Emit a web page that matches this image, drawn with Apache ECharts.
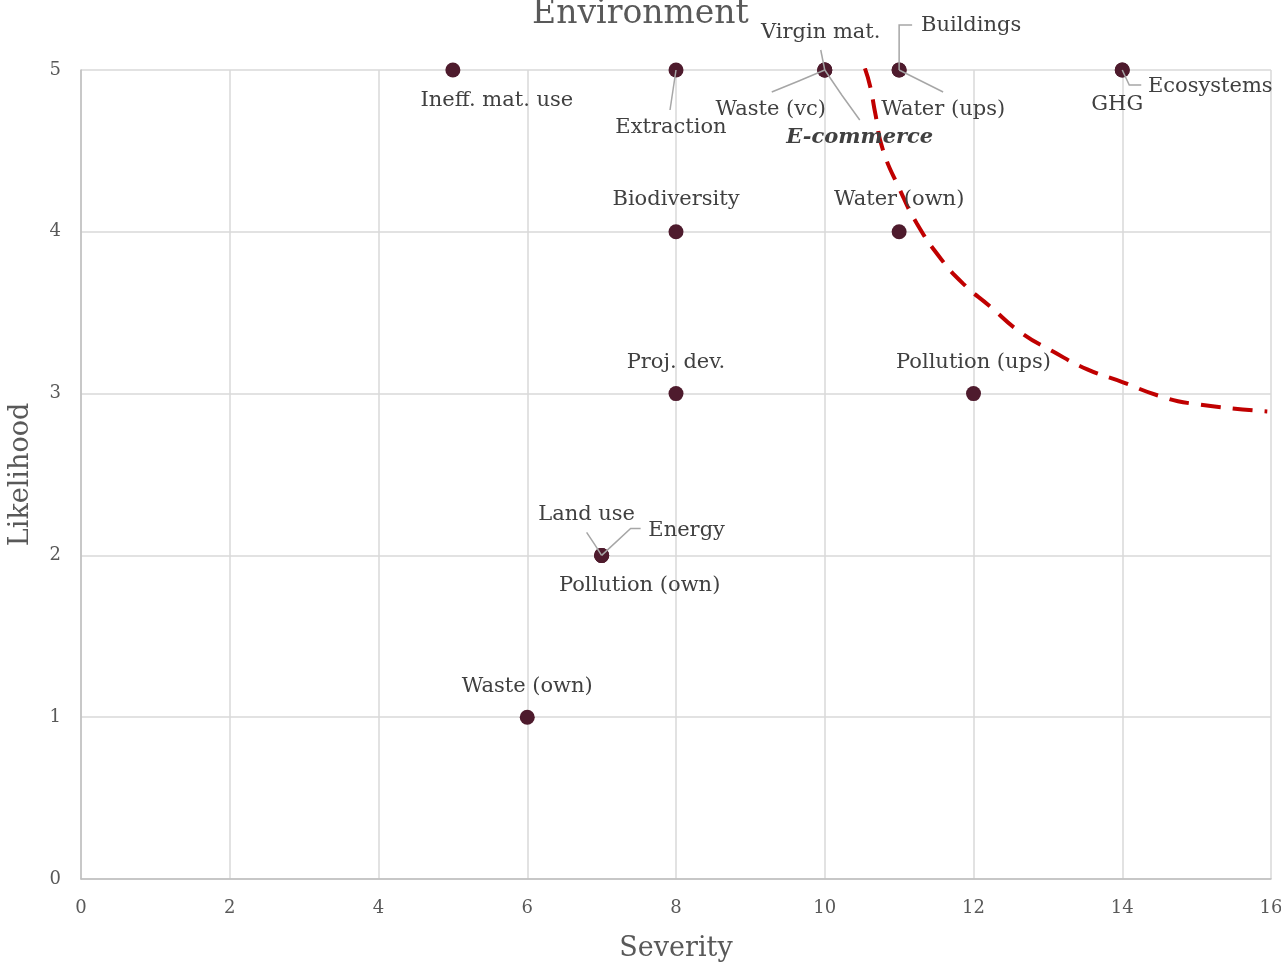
<!DOCTYPE html>
<html>
<head>
<meta charset="utf-8">
<script src="https://cdn.jsdelivr.net/npm/echarts@6/dist/echarts.min.js"></script>
<style>
  html, body { margin: 0; padding: 0; background: #fff; }
  #chart { width: 1281px; height: 967px; }
</style>
</head>
<body>
<div id="chart"></div>
<script>
// Environmental risks: severity vs likelihood
const riskNames = [
  'Ineff. mat. use', 'Extraction', 'Virgin mat.', 'Waste (vc)', 'E-commerce',
  'Buildings', 'Water (ups)', 'GHG', 'Ecosystems', 'Biodiversity',
  'Water (own)', 'Proj. dev.', 'Pollution (ups)', 'Land use', 'Energy',
  'Pollution (own)', 'Waste (own)'
];
const severity   = [5, 8, 10, 10, 10, 11, 11, 14, 14, 8, 11, 8, 12, 7, 7, 7, 6];
const likelihood = [5, 5, 5, 5, 5, 5, 5, 5, 5, 4, 4, 3, 3, 2, 2, 2, 1];

// Threshold curve (dashed)
const curveX = [10.54, 10.61, 10.68, 10.78, 11.01, 11.24, 11.55, 11.86, 12.22, 12.63, 13.07, 13.53, 14.01, 14.47, 14.91, 15.95];
const curveY = [5.01, 4.90, 4.73, 4.51, 4.26, 4.05, 3.84, 3.68, 3.54, 3.38, 3.26, 3.15, 3.07, 2.99, 2.94, 2.89];

const xTicks = [0, 2, 4, 6, 8, 10, 12, 14, 16];
const yTicks = [0, 1, 2, 3, 4, 5];

// Label centre offset from its marker, in pixels
const labelOffset = {
  'Ineff. mat. use': [44, 31],
  'Extraction':      [-5, 58],
  'Virgin mat.':     [-4, -37],
  'Waste (vc)':      [-54, 40],
  'E-commerce':      [35, 68],
  'Buildings':       [72, -44],
  'Water (ups)':     [44, 40],
  'GHG':             [-5, 35],
  'Ecosystems':      [88, 17],
  'Biodiversity':    [0, -32],
  'Water (own)':     [0, -32],
  'Proj. dev.':      [0, -31],
  'Pollution (ups)': [0, -31],
  'Land use':        [-15, -41],
  'Energy':          [85, -25],
  'Pollution (own)': [38, 30],
  'Waste (own)':     [0, -31]
};

// Leader-line bends, relative to the marker centre
const leaderLines = {
  'Extraction':  [[0, 0], [-3, 20], [-6, 40]],
  'Virgin mat.': [[0, 0], [-2, -10], [-4, -20]],
  'Waste (vc)':  [[0, 0], [-26, 11], [-53, 22]],
  'E-commerce':  [[0, 0], [17, 25], [35, 50]],
  'Buildings':   [[0, 0], [0, -45], [13, -45]],
  'Water (ups)': [[0, 0], [22, 11], [44, 22]],
  'Ecosystems':  [[0, 0], [7, 15], [19, 15]],
  'Land use':    [[0, 0], [-7, -11], [-15, -23]],
  'Energy':      [[0, 0], [29, -27], [39, -27]]
};

const FONT = '"DejaVu Serif", Georgia, serif';

const points = riskNames.map((n, i) => {
  const item = { name: n, value: [severity[i], likelihood[i]] };
  if (n === 'E-commerce') {
    item.label = { fontWeight: 'bold', fontStyle: 'italic' };
  }
  return item;
});

// One leader line per label that has one, anchored at its marker
const leaderData = [];
riskNames.forEach((n, i) => {
  if (leaderLines[n]) leaderData.push({ name: n, value: [severity[i], likelihood[i], i] });
});

const chart = echarts.init(document.getElementById('chart'), null, { renderer: 'canvas' });

chart.setOption({
  animation: false,
  backgroundColor: '#ffffff',
  title: {
    text: 'Environment',
    left: 'center',
    top: -7,
    textStyle: { fontFamily: FONT, fontSize: 33, fontWeight: 'normal', color: '#595959' }
  },
  grid: { left: 81, right: 10, top: 70, bottom: 88, containLabel: false, outerBoundsMode: 'none' },
  xAxis: {
    type: 'value',
    min: xTicks[0],
    max: xTicks[xTicks.length - 1],
    interval: 2,
    name: 'Severity',
    nameLocation: 'middle',
    nameGap: 56,
    nameTextStyle: { fontFamily: FONT, fontSize: 27, color: '#595959' },
    axisLine: { show: true, lineStyle: { color: '#bfbfbf', width: 1.5 } },
    axisTick: { show: false },
    axisLabel: { margin: 20, fontFamily: FONT, fontSize: 18, color: '#595959' },
    splitLine: { show: true, lineStyle: { color: '#d9d9d9', width: 1.5 } }
  },
  yAxis: {
    type: 'value',
    min: yTicks[0],
    max: yTicks[yTicks.length - 1],
    interval: 1,
    name: 'Likelihood',
    nameLocation: 'middle',
    nameGap: 47,
    nameTextStyle: { fontFamily: FONT, fontSize: 27, color: '#595959' },
    axisLine: { show: true, lineStyle: { color: '#bfbfbf', width: 1.5 } },
    axisTick: { show: false },
    axisLabel: { margin: 20, fontFamily: FONT, fontSize: 18, color: '#595959' },
    splitLine: { show: true, lineStyle: { color: '#d9d9d9', width: 1.5 } }
  },
  series: [
    {
      name: 'Threshold',
      type: 'line',
      data: curveX.map((x, i) => [x, curveY[i]]),
      smooth: true,
      showSymbol: false,
      symbol: 'none',
      lineStyle: { color: '#c00000', width: 4, type: [20, 12] },
      z: 1
    },
    {
      name: 'Risks',
      type: 'scatter',
      data: points,
      symbolSize: 15,
      itemStyle: { color: '#4e1b2d', opacity: 1 },
      label: {
        show: true,
        position: 'inside',
        formatter: '{b}',
        fontFamily: FONT,
        fontSize: 21,
        color: '#404040'
      },
      labelLayout: function (params) {
        const off = labelOffset[riskNames[params.dataIndex]];
        const cx = params.rect.x + params.rect.width / 2;
        const cy = params.rect.y + params.rect.height / 2;
        return {
          x: cx + off[0],
          y: cy + off[1],
          align: 'center',
          verticalAlign: 'middle',
          hideOverlap: false
        };
      },
      z: 3
    },
    {
      name: 'Leaders',
      type: 'custom',
      data: leaderData,
      silent: true,
      renderItem: function (params, api) {
        const c = api.coord([api.value(0), api.value(1)]);
        const bends = leaderLines[riskNames[api.value(2)]];
        return {
          type: 'polyline',
          shape: { points: bends.map(p => [c[0] + p[0], c[1] + p[1]]) },
          style: { stroke: '#a6a6a6', lineWidth: 1.5, fill: null }
        };
      },
      z: 4
    }
  ]
});
</script>
</body>
</html>
